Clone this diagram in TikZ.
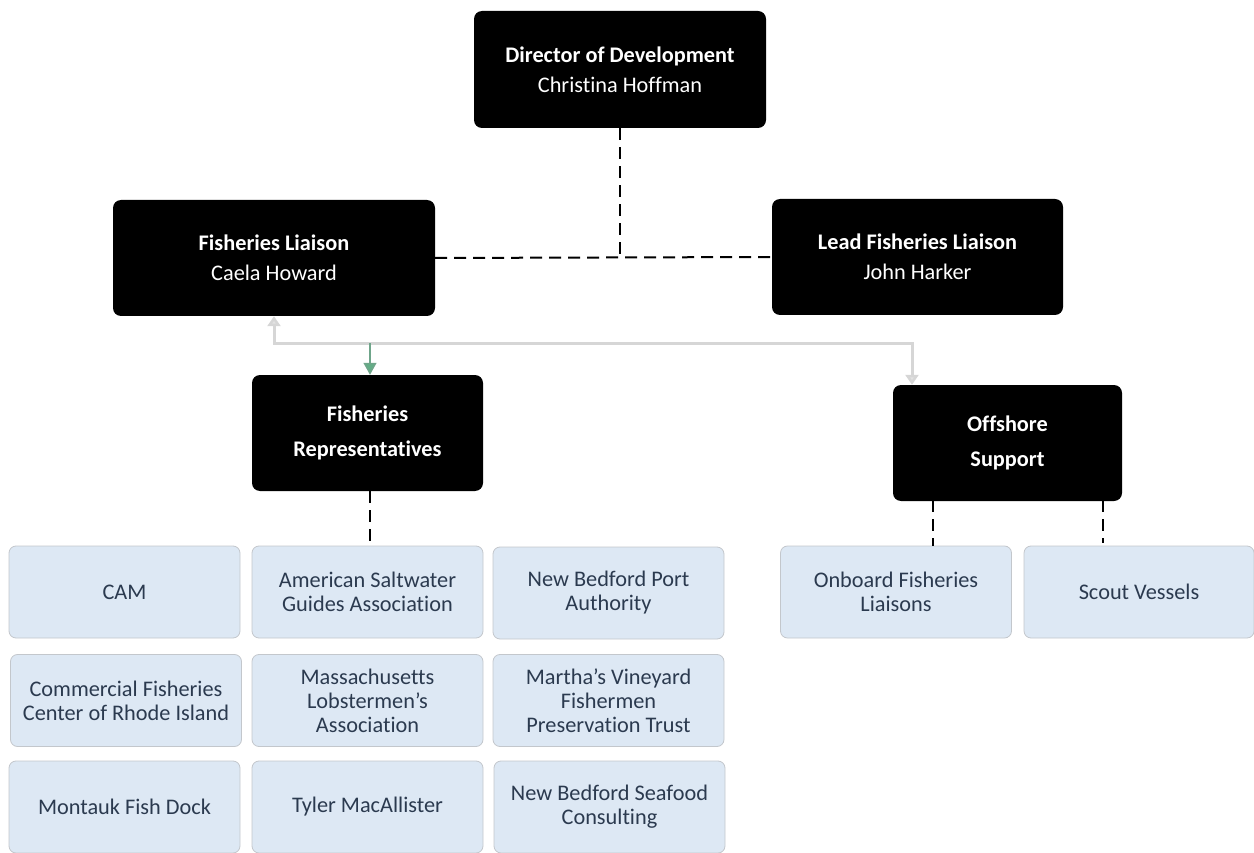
\documentclass[tikz,border=0pt]{standalone}
\usepackage{fontspec}
\setmainfont{Carlito}[Ligatures={NoCommon,NoContextual}]
\usetikzlibrary{arrows.meta}
\definecolor{lightbox}{HTML}{DDE8F4}
\definecolor{lightborder}{HTML}{C3C7CC}
\definecolor{lighttext}{HTML}{2B3A4F}
\definecolor{grayconn}{HTML}{D6D6D6}
\definecolor{grayhead}{HTML}{E3E3E3}
\definecolor{greenconn}{HTML}{6FA58A}
\definecolor{greenhead}{HTML}{62AE86}
\tikzset{
  darkbox/.style={draw=none, fill=black, rounded corners=8pt, text=white, align=center,
    font={\fontsize{22.3}{30}\selectfont}, inner sep=0pt},
  litebox/.style={draw=lightborder, line width=0.8pt, fill=lightbox, rounded corners=7pt, text=lighttext, align=center,
    font={\fontsize{22.3}{24}\selectfont}, minimum width=231pt, minimum height=92pt, inner sep=0pt},
  dashconn/.style={draw=black, line width=2pt, dash pattern=on 12pt off 7pt},
  grayline/.style={draw=grayconn, line width=3pt},
  greenline/.style={draw=greenconn, line width=1.5pt},
}
\begin{document}
\begin{tikzpicture}[x=1pt,y=-1pt]
\useasboundingbox (0,0) rectangle (1254,853);
% dark boxes
\node[darkbox, minimum width=292pt, minimum height=117pt] (dir) at (620,69.5) {\textbf{Director of Development}\\Christina Hoffman};
\node[darkbox, minimum width=322pt, minimum height=116pt] (fl) at (274,258) {\textbf{Fisheries Liaison}\\Caela Howard};
\node[darkbox, minimum width=291pt, minimum height=116pt] (lfl) at (917.5,257) {\textbf{Lead Fisheries Liaison}\\John Harker};
\node[darkbox, minimum width=231pt, minimum height=116pt, font={\fontsize{22.3}{35}\selectfont\bfseries}] (fr) at (367.5,433) {Fisheries\\Representatives};
\node[darkbox, minimum width=229pt, minimum height=116pt, font={\fontsize{22.3}{35}\selectfont\bfseries}] (os) at (1007.5,443) {Offshore\\Support};
% light boxes
\node[litebox] (cam) at (124.5,592) {CAM};
\node[litebox] (asga) at (367.5,592) {American Saltwater\\Guides Association};
\node[litebox] (nbpa) at (608.5,593) {New Bedford Port\\Authority};
\node[litebox] (cfri) at (126,700.5) {Commercial Fisheries\\Center of Rhode Island};
\node[litebox] (mla) at (367.5,700.5) {Massachusetts\\Lobstermen’s\\Association};
\node[litebox] (mvf) at (608.5,700.5) {Martha’s Vineyard\\Fishermen\\Preservation Trust};
\node[litebox] (mfd) at (124.5,807) {Montauk Fish Dock};
\node[litebox] (tm) at (367.5,807) {Tyler MacAllister};
\node[litebox] (nbsc) at (609.5,807) {New Bedford Seafood\\Consulting};
\node[litebox] (ofl) at (896,592) {Onboard Fisheries\\Liaisons};
\node[litebox, minimum width=230pt] (sv) at (1139,592) {Scout Vessels};
% coordinates
\coordinate (dj) at (620,256);
\coordinate (g1) at (274,343);
\coordinate (g2) at (912,343);
\coordinate (gj) at (370,343);
\coordinate (o1) at (933,500);
\coordinate (o2) at (1103,500);
\coordinate (o2e) at (1103,543);
% connectors
\draw[dashconn] (dir.south) -- (dj);
\draw[dashconn] (fl.east) -- (lfl.west);
\draw[dashconn] (fr.south -| gj) -- (asga.north -| gj);
\draw[dashconn] (o1) -- (ofl.north -| o1);
\draw[dashconn] (o2) -- (o2e);
\draw[grayline, {Triangle[length=10pt,width=13pt,fill=grayhead]}-{Triangle[length=10pt,width=13pt,fill=grayhead]}]
  (fl.south -| g1) -- (g1) -- (g2) -- (os.north -| g2);
\draw[greenline, -{Triangle[length=12pt,width=13pt,fill=greenhead]}] (gj) -- (fr.north -| gj);
\end{tikzpicture}
\end{document}
